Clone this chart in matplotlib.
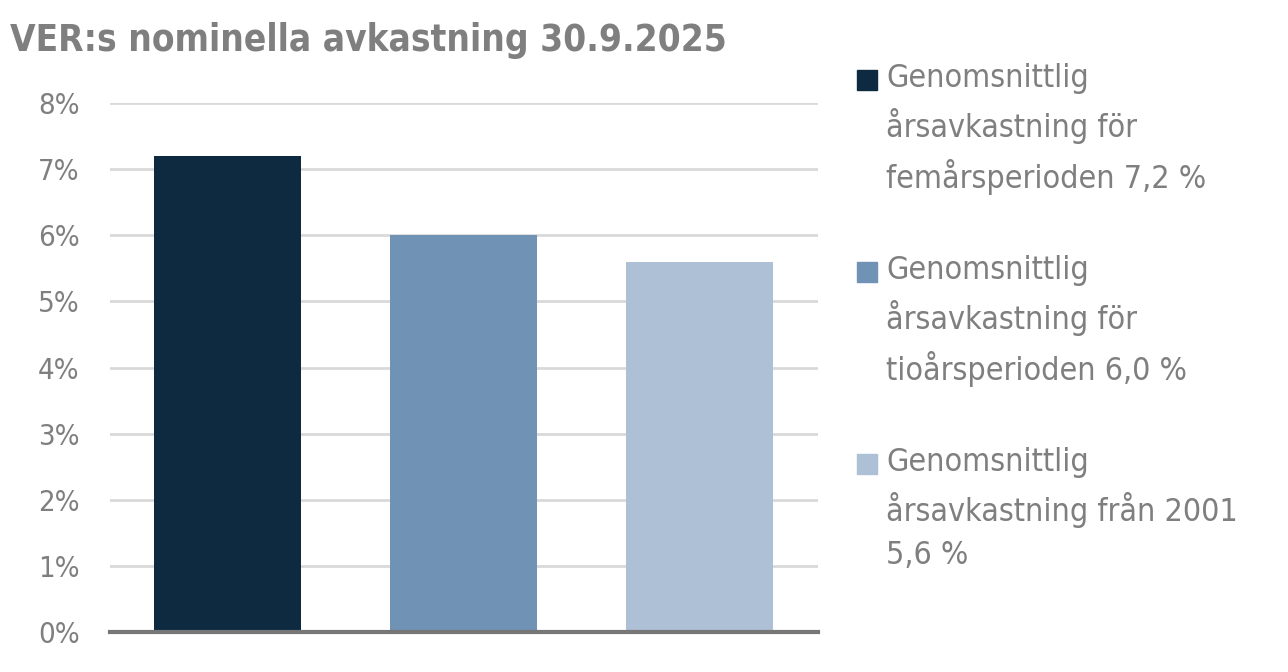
import matplotlib
matplotlib.use("Agg")
import matplotlib.pyplot as plt
from matplotlib.patches import Rectangle

plt.rcParams['font.family'] = ['DejaVu Sans']
plt.rcParams['font.stretch'] = 'condensed'

title = "VER:s nominella avkastning 30.9.2025"
values = [7.2, 6.0, 5.6]
labels = [
    "Genomsnittlig\nårsavkastning för\nfemårsperioden 7,2 %",
    "Genomsnittlig\nårsavkastning för\ntioårsperioden 6,0 %",
    "Genomsnittlig\nårsavkastning från 2001\n5,6 %",
]
colors = ['#0e2a40', '#7092b5', '#adc0d5']
yticks = [0, 1, 2, 3, 4, 5, 6, 7, 8]

grey = '#7f7f7f'

fig = plt.figure(figsize=(12.88, 6.72), dpi=100)
ax = fig.add_axes([0.0854, 0.0595, 0.5496, 0.7872])

x = list(range(len(values)))
ax.bar(x, values, width=0.623, color=colors, zorder=3)

ax.set_xlim(-0.5, 2.5)
ax.set_ylim(0, 8)
ax.set_yticks(yticks)
ax.set_yticklabels(["{}%".format(t) for t in yticks], fontsize=21, color=grey)
ax.set_xticks([])
ax.tick_params(axis='y', length=0, pad=22)

ax.grid(axis='y', color='#d9d9d9', linewidth=2, zorder=0)
for s in ['top', 'right', 'left']:
    ax.spines[s].set_visible(False)
ax.spines['bottom'].set_color('#767676')
ax.spines['bottom'].set_linewidth(3)
ax.spines['bottom'].set_zorder(4)

fig.text(0.008, 0.94, title, fontsize=26.5, fontweight='semibold', color=grey,
         ha='left', va='center')

# legend drawn by hand so the square sits by the first line
top = 80
for i, (lab, c) in enumerate(zip(labels, colors)):
    yc = top + i * 192
    fig.patches.append(Rectangle((857 / 1288, 1 - (yc + 10) / 672), 20 / 1288, 20 / 672,
                                 transform=fig.transFigure, color=c))
    fig.text(886 / 1288, 1 - (yc - 17) / 672, lab, fontsize=23, color=grey,
             ha='left', va='top', linespacing=1.5)

fig.savefig("out.png", dpi=100)
